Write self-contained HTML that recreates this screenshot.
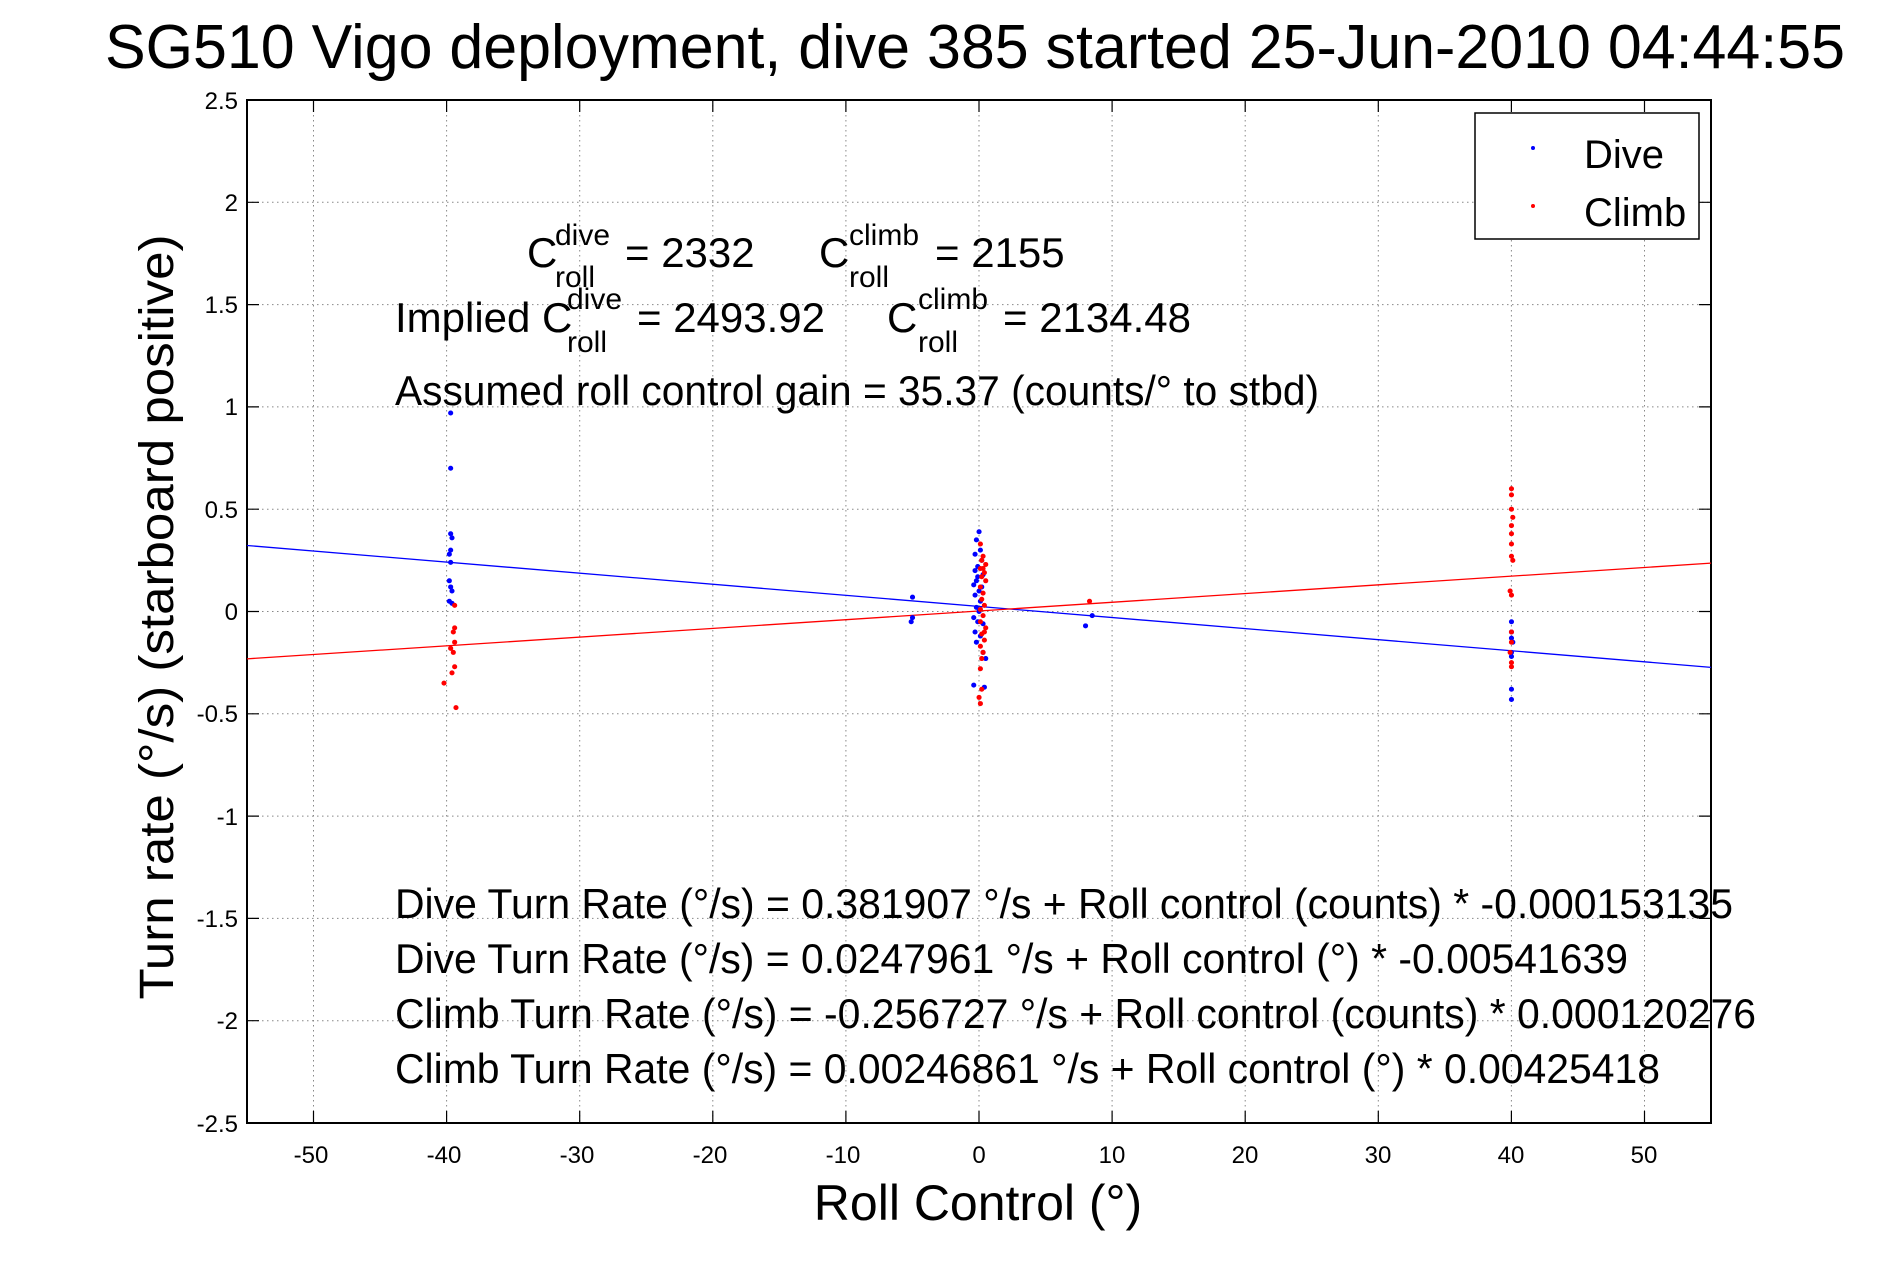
<!DOCTYPE html>
<html><head><meta charset="utf-8"><style>html,body{margin:0;padding:0;background:#fff;}svg{display:block;}</style></head>
<body>
<svg width="1891" height="1262" viewBox="0 0 1891 1262" xmlns="http://www.w3.org/2000/svg" font-family="Liberation Sans, Arial, sans-serif">
<rect width="1891" height="1262" fill="#fff"/>
<text x="105" y="68" font-size="62" textLength="1740" lengthAdjust="spacingAndGlyphs">SG510 Vigo deployment, dive 385 started 25-Jun-2010 04:44:55</text>
<!-- grid -->
<g stroke="#888" stroke-width="1" stroke-dasharray="1.5,3.5">
<path d="M313.5 100V1123M446.6 100V1123M579.7 100V1123M712.8 100V1123M845.9 100V1123M979 100V1123M1112.1 100V1123M1245.2 100V1123M1378.3 100V1123M1511.4 100V1123M1644.5 100V1123"/>
<path d="M247 202.3H1711M247 304.6H1711M247 406.9H1711M247 509.2H1711M247 611.5H1711M247 713.8H1711M247 816.1H1711M247 918.4H1711M247 1020.7H1711"/>
</g>
<!-- ticks -->
<g stroke="#000" stroke-width="1.2">
<path d="M313.5 1123v-12M446.6 1123v-12M579.7 1123v-12M712.8 1123v-12M845.9 1123v-12M979 1123v-12M1112.1 1123v-12M1245.2 1123v-12M1378.3 1123v-12M1511.4 1123v-12M1644.5 1123v-12"/>
<path d="M313.5 100v12M446.6 100v12M579.7 100v12M712.8 100v12M845.9 100v12M979 100v12M1112.1 100v12M1245.2 100v12M1378.3 100v12M1511.4 100v12M1644.5 100v12"/>
<path d="M247 202.3h12M247 304.6h12M247 406.9h12M247 509.2h12M247 611.5h12M247 713.8h12M247 816.1h12M247 918.4h12M247 1020.7h12"/>
<path d="M1711 202.3h-12M1711 304.6h-12M1711 406.9h-12M1711 509.2h-12M1711 611.5h-12M1711 713.8h-12M1711 816.1h-12M1711 918.4h-12M1711 1020.7h-12"/>
</g>
<rect x="247" y="100" width="1464" height="1023" fill="none" stroke="#000" stroke-width="2"/>
<!-- tick labels -->
<g font-size="24" text-anchor="end">
<text x="238" y="109">2.5</text><text x="238" y="211">2</text><text x="238" y="313">1.5</text><text x="238" y="415">1</text><text x="238" y="518">0.5</text><text x="238" y="620">0</text><text x="238" y="722">-0.5</text><text x="238" y="825">-1</text><text x="238" y="927">-1.5</text><text x="238" y="1029">-2</text><text x="238" y="1132">-2.5</text>
</g>
<g font-size="24" text-anchor="middle">
<text x="311" y="1163">-50</text><text x="444" y="1163">-40</text><text x="577" y="1163">-30</text><text x="710" y="1163">-20</text><text x="843" y="1163">-10</text><text x="979" y="1163">0</text><text x="1112" y="1163">10</text><text x="1245" y="1163">20</text><text x="1378" y="1163">30</text><text x="1511" y="1163">40</text><text x="1644" y="1163">50</text>
</g>
<text x="978" y="1220" font-size="50" text-anchor="middle">Roll Control (°)</text>
<text transform="translate(173,617) rotate(-90)" font-size="48" text-anchor="middle" textLength="765" lengthAdjust="spacingAndGlyphs">Turn rate (°/s)  (starboard positive)</text>
<!-- data -->
<g transform="translate(979,611.5) scale(13.31,-204.6)">
<path d="M-55 0.3227L55 -0.2731" stroke="#00f" stroke-width="1.3" vector-effect="non-scaling-stroke" fill="none"/>
<path d="M-55 -0.2315L55 0.2365" stroke="#f00" stroke-width="1.3" vector-effect="non-scaling-stroke" fill="none"/>
<g stroke="#00f" stroke-width="5" stroke-linecap="round" fill="none">
<path vector-effect="non-scaling-stroke" d="M-39.7 0.97h0.01M-39.7 0.7h0.01M-39.7 0.38h0.01M-39.6 0.36h0.01M-39.7 0.3h0.01M-39.8 0.28h0.01M-39.7 0.24h0.01M-39.8 0.15h0.01M-39.7 0.12h0.01M-39.6 0.1h0.01M-39.8 0.05h0.01M-39.6 0.04h0.01
M0 0.39h0.01M-0.2 0.35h0.01M0.1 0.3h0.01M-0.3 0.28h0.01M0.2 0.25h0.01M-0.1 0.22h0.01M-0.3 0.2h0.01M0.3 0.18h0.01M-0.2 0.15h0.01M-0.4 0.13h0.01M0 0.1h0.01M-0.3 0.08h0.01M0.1 0.05h0.01M-0.2 0.02h0.01M0 0h0.01M-0.4 -0.03h0.01M0.3 -0.06h0.01M-0.3 -0.1h0.01M0.1 -0.12h0.01M-0.2 -0.15h0.01M0.3 -0.2h0.01M0.5 -0.23h0.01M-0.4 -0.36h0.01M0.4 -0.37h0.01M-0.1 -0.05h0.01M0.2 0.12h0.01M-0.1 0.17h0.01
M40 -0.05h0.01M40 -0.1h0.01M40 -0.13h0.01M40.1 -0.15h0.01M40 -0.2h0.01M40 -0.22h0.01M40 -0.38h0.01M40 -0.43h0.01
M-5 0.07h0.01M-5 -0.03h0.01M-5.1 -0.05h0.01M8 -0.07h0.01M8.5 -0.02h0.01"/>
</g>
<g stroke="#f00" stroke-width="5" stroke-linecap="round" fill="none">
<path vector-effect="non-scaling-stroke" d="M-39.4 0.03h0.01M-39.4 -0.08h0.01M-39.5 -0.1h0.01M-39.4 -0.15h0.01M-39.7 -0.18h0.01M-39.5 -0.2h0.01M-39.4 -0.27h0.01M-39.6 -0.3h0.01M-40.2 -0.35h0.01M-39.3 -0.47h0.01
M0.1 0.33h0.01M0.3 0.27h0.01M0.2 0.25h0.01M0.5 0.23h0.01M0.1 0.21h0.01M0.4 0.19h0.01M0.2 0.17h0.01M0.5 0.15h0.01M0.1 0.12h0.01M0.3 0.09h0.01M0.2 0.06h0.01M0.4 0.03h0.01M0.1 0.01h0.01M0.3 -0.02h0.01M0.1 -0.05h0.01M0.5 -0.08h0.01M0.2 -0.11h0.01M0.4 -0.14h0.01M0.1 -0.17h0.01M0.3 -0.2h0.01M0.2 -0.23h0.01M0.1 -0.28h0.01M0.2 -0.38h0.01M0 -0.42h0.01M0.1 -0.45h0.01M0.3 0.21h0.01M0.4 -0.1h0.01
M40 0.6h0.01M40 0.57h0.01M40 0.5h0.01M40.1 0.46h0.01M40 0.42h0.01M40 0.38h0.01M40 0.33h0.01M40 0.27h0.01M40.1 0.25h0.01M39.9 0.1h0.01M40 0.08h0.01M40 -0.1h0.01M40 -0.15h0.01M39.9 -0.2h0.01M40 -0.25h0.01M40 -0.27h0.01
M8.3 0.05h0.01"/>
</g>
</g>
<!-- annotations -->
<g font-size="42">
<text x="527" y="267">C</text><text x="555" y="245" font-size="30">dive</text><text x="555" y="287" font-size="30">roll</text><text x="625" y="267">= 2332</text>
<text x="819" y="267">C</text><text x="849" y="245" font-size="30">climb</text><text x="849" y="287" font-size="30">roll</text><text x="935" y="267">= 2155</text>
<text x="395" y="332">Implied C</text><text x="567" y="309" font-size="30">dive</text><text x="567" y="352" font-size="30">roll</text><text x="637" y="332">= 2493.92</text>
<text x="887" y="332">C</text><text x="918" y="309" font-size="30">climb</text><text x="918" y="352" font-size="30">roll</text><text x="1003" y="332">= 2134.48</text>
<text x="395" y="405" textLength="924" lengthAdjust="spacingAndGlyphs">Assumed roll control gain = 35.37 (counts/° to stbd)</text>
<text x="395" y="918" textLength="1338" lengthAdjust="spacingAndGlyphs">Dive Turn Rate (°/s) = 0.381907 °/s + Roll control (counts) * -0.000153135</text>
<text x="395" y="973" textLength="1233" lengthAdjust="spacingAndGlyphs">Dive Turn Rate (°/s) = 0.0247961 °/s + Roll control (°) * -0.00541639</text>
<text x="395" y="1028" textLength="1361" lengthAdjust="spacingAndGlyphs">Climb Turn Rate (°/s) = -0.256727 °/s + Roll control (counts) * 0.000120276</text>
<text x="395" y="1083" textLength="1265" lengthAdjust="spacingAndGlyphs">Climb Turn Rate (°/s) = 0.00246861 °/s + Roll control (°) * 0.00425418</text>
</g>
<!-- legend -->
<rect x="1475" y="113" width="224" height="126" fill="#fff" stroke="#000" stroke-width="1.5"/>
<circle cx="1533" cy="148" r="2" fill="#00f"/>
<circle cx="1533" cy="206" r="2" fill="#f00"/>
<text x="1584" y="168" font-size="40">Dive</text>
<text x="1584" y="226" font-size="40">Climb</text>
</svg>
</body></html>
